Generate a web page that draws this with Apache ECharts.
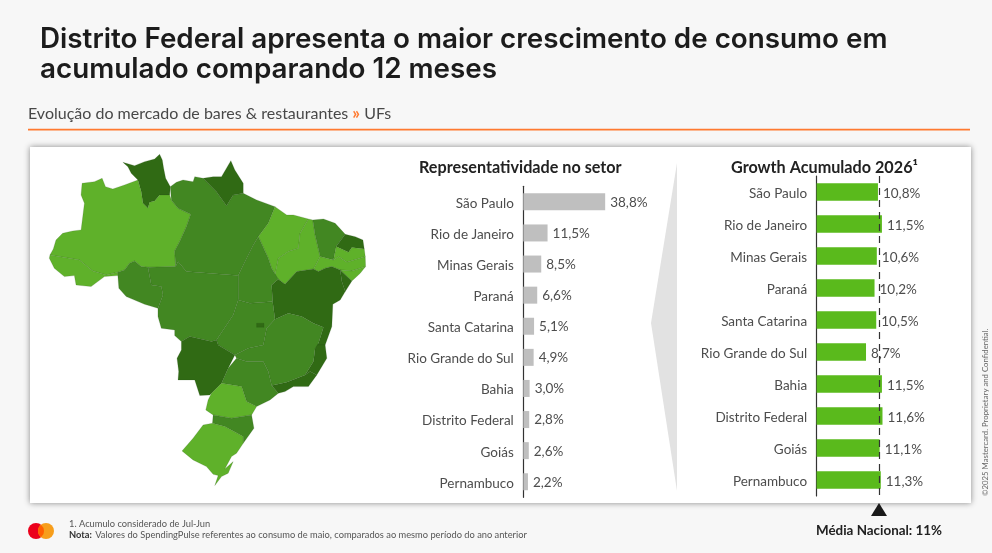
<!DOCTYPE html>
<html>
<head>
<meta charset="utf-8">
<style>html,body{margin:0;padding:0;background:#f7f7f7}#c{width:992px;height:553px}</style>
<script src="https://cdn.jsdelivr.net/npm/echarts@6/dist/echarts.min.js"></script>
</head>
<body>
<div id="c"></div>
<script>
const categories = ['São Paulo','Rio de Janeiro','Minas Gerais','Paraná','Santa Catarina','Rio Grande do Sul','Bahia','Distrito Federal','Goiás','Pernambuco'];
const shareValues = [38.8,11.5,8.5,6.6,5.1,4.9,3.0,2.8,2.6,2.2];
const growthValues = [10.8,11.5,10.6,10.2,10.5,8.7,11.5,11.6,11.1,11.3];
const nationalAverage = 11;
const stateNames = ['Roraima','Amazonas','Acre','Pará','Amapá','Maranhão','Piauí','Ceará','Rio Grande do Norte','Paraíba','Pernambuco','Alagoas','Sergipe','Bahia','Espírito Santo','Rio de Janeiro','Minas Gerais','Goiás','Distrito Federal','Tocantins','Mato Grosso','Rondônia','Mato Grosso do Sul','São Paulo','Paraná','Santa Catarina','Rio Grande do Sul'];
const stateTiers = [3,1,1,2,3,1,1,2,3,1,1,1,3,3,3,3,2,2,3,2,2,2,3,2,1,2,1];
const tierColors = {1:'#5fb12a',2:'#428722',3:'#306a14'};
// Traced outlines of the states, in the map's own coordinate space
const stateShapes = {
'Roraima':[[280,52],[315,62],[345,50],[375,42],[390,28],[398,45],[402,70],[408,100],[422,125],[420,150],[405,150],[390,150],[375,168],[360,172],[355,190],[340,175],[335,140],[325,105],[305,85],[295,65]],
'Amazonas':[[158,115],[195,110],[218,100],[228,125],[250,132],[285,120],[325,105],[335,140],[340,175],[355,190],[360,172],[375,168],[390,150],[420,150],[425,165],[445,190],[483,208],[470,245],[450,290],[435,318],[438,365],[355,367],[335,365],[315,348],[300,355],[285,375],[265,382],[230,390],[190,378],[150,345],[62,330],[72,312],[80,285],[100,265],[130,258],[155,255],[160,215],[165,175],[155,150]],
'Acre':[[62,330],[150,345],[190,378],[230,390],[265,382],[265,392],[225,395],[205,410],[185,425],[140,420],[135,392],[105,395],[75,370],[60,340]],
'Pará':[[422,125],[440,112],[460,105],[490,110],[495,95],[520,100],[560,140],[590,182],[610,150],[640,145],[680,165],[735,185],[715,235],[685,275],[670,300],[650,340],[625,392],[470,380],[445,350],[438,365],[435,318],[450,290],[470,245],[483,208],[445,190],[425,165]],
'Amapá':[[520,100],[550,95],[575,95],[603,47],[615,75],[640,115],[640,130],[640,145],[610,150],[590,182],[560,140]],
'Maranhão':[[735,185],[770,210],[790,210],[835,222],[810,265],[805,310],[775,320],[745,340],[735,390],[745,403],[725,370],[715,340],[690,285],[685,275],[715,235]],
'Piauí':[[835,222],[848,225],[855,270],[870,335],[860,355],[850,372],[800,380],[765,418],[745,403],[735,390],[745,340],[775,320],[805,310],[810,265]],
'Ceará':[[848,225],[880,222],[915,235],[945,268],[918,305],[910,345],[870,335],[855,270]],
'Rio Grande do Norte':[[945,268],[975,275],[998,285],[1002,312],[965,308],[955,322],[918,305]],
'Paraíba':[[918,305],[955,322],[965,308],[1002,312],[1005,335],[950,352],[925,335],[910,345]],
'Pernambuco':[[910,345],[925,335],[950,352],[1005,335],[1006,365],[965,378],[930,375],[905,365],[885,370],[865,380],[850,372],[860,355],[870,335]],
'Alagoas':[[930,375],[965,378],[1006,365],[990,385],[965,408]],
'Sergipe':[[930,375],[965,408],[945,440],[935,410]],
'Bahia':[[725,420],[745,403],[765,418],[800,380],[850,372],[865,380],[885,370],[905,365],[930,375],[935,410],[945,440],[930,465],[908,478],[905,545],[885,600],[855,600],[865,595],[880,547],[850,535],[815,515],[775,505],[735,523],[728,470]],
'Espírito Santo':[[855,600],[885,600],[890,640],[860,690],[840,680],[825,690],[850,650],[855,610]],
'Rio de Janeiro':[[770,712],[825,690],[840,680],[860,690],[835,725],[790,725],[765,740],[745,745],[725,722]],
'Minas Gerais':[[735,523],[775,505],[815,515],[850,535],[880,547],[865,595],[855,610],[850,650],[825,690],[770,712],[725,722],[715,680],[700,650],[650,650],[620,640],[615,630],[655,610],[700,600],[710,550]],
'Goiás':[[625,465],[660,475],[728,470],[735,523],[710,550],[700,600],[655,610],[615,630],[565,600],[560,585],[590,540],[610,510]],
'Distrito Federal':[[680,535],[702,535],[702,547],[680,547]],
'Tocantins':[[670,300],[685,275],[690,285],[715,340],[725,370],[745,403],[725,420],[728,470],[660,475],[625,465],[625,392],[650,340]],
'Mato Grosso':[[355,367],[438,365],[445,350],[470,380],[625,392],[625,465],[610,510],[590,540],[560,585],[545,590],[480,575],[455,590],[435,572],[435,555],[395,550],[385,515],[385,490],[400,450],[395,425],[365,420]],
'Rondônia':[[265,382],[285,375],[300,355],[315,348],[335,365],[355,367],[365,420],[395,425],[400,450],[385,490],[345,478],[290,455],[268,430],[265,392]],
'Mato Grosso do Sul':[[455,590],[480,575],[545,590],[560,585],[565,600],[615,630],[595,670],[575,715],[540,750],[510,752],[495,705],[445,705],[447,680],[442,640],[455,615]],
'São Paulo':[[595,670],[620,640],[650,650],[700,650],[715,680],[725,722],[745,745],[720,765],[680,785],[650,770],[635,725],[575,715]],
'Paraná':[[545,745],[575,715],[635,725],[650,770],[680,785],[665,810],[605,820],[550,810],[528,795],[535,765]],
'Santa Catarina':[[550,810],[605,820],[665,810],[672,850],[640,895],[640,875],[585,845],[548,835]],
'Rio Grande do Sul':[[520,840],[548,835],[585,845],[640,875],[640,895],[620,925],[605,935],[585,972],[610,950],[595,985],[575,995],[555,1022],[565,992],[550,988],[530,965],[490,945],[457,918],[490,880]]
};
const titleLines = 'Distrito Federal apresenta o maior crescimento de consumo em\nacumulado comparando 12 meses';

const geoJson = {type:'FeatureCollection',features:stateNames.map(n=>({type:'Feature',properties:{name:n},geometry:{type:'Polygon',coordinates:[stateShapes[n].concat([stateShapes[n][0]])]}}))};
echarts.registerMap('brasil', geoJson);

const FONT = 'Lato, "Noto Sans", sans-serif';
const LAB = '#4d4d4d';
const chart = echarts.init(document.getElementById('c'), null, {renderer:'canvas'});
const pct = v => v.toFixed(1).replace('.',',') + '%';

chart.setOption({
  animation:false,
  backgroundColor:'#f7f7f7',
  graphic:[
    {type:'rect',z:-10,shape:{x:30,y:147,width:941,height:356},style:{fill:'#fff',shadowBlur:6,shadowColor:'rgba(0,0,0,.45)'}},
    {type:'polygon',z:-9,shape:{points:[[677,163],[651,323],[677,491]]},style:{fill:'#e2e2e2'}},
    {type:'rect',z:1,shape:{x:28,y:128.7,width:942,height:1.7},style:{fill:'#ff7a30'}},
    {type:'text',z:5,left:28,top:105.5,style:{rich:{a:{fontFamily:FONT,fontSize:16,fill:'#484848'},b:{fontFamily:FONT,fontSize:17,fontWeight:'bold',fill:'#ff7a30'}},text:'{a|Evolução do mercado de bares & restaurantes }{b|»}{a| UFs}'}},
    {type:'circle',z:3,shape:{cx:36,cy:531,r:8},style:{fill:'#eb001b'}},
    {type:'circle',z:3,shape:{cx:46,cy:531,r:8},style:{fill:'#f79e1b'}},
    {type:'polygon',z:4,shape:{points:[[41,524.8],[43.5,528],[44,531],[43.5,534],[41,537.2],[38.5,534],[38,531],[38.5,528]]},style:{fill:'#ff5f00'}},
    {type:'text',z:5,left:69,top:519,style:{text:'1. Acumulo considerado de Jul-Jun',fontFamily:FONT,fontSize:9.3,fill:'#555'}},
    {type:'text',z:5,left:69,top:528.5,style:{rich:{b:{fontFamily:FONT,fontSize:9.3,fontWeight:'bold',fill:'#333'},a:{fontFamily:FONT,fontSize:9.3,fill:'#555'}},text:'{b|Nota:} {a|Valores do SpendingPulse referentes ao consumo de maio, comparados ao mesmo período do ano anterior}'}},
    {type:'polygon',z:5,shape:{points:[[879,503],[887,516],[871,516]]},style:{fill:'#1a1a1a'}},
    {type:'text',z:5,left:816,top:524,style:{text:'Média Nacional: 11%',fontFamily:FONT,fontSize:13.4,fontWeight:'bold',fill:'#222'}},
    {type:'text',z:5,x:985,y:496,rotation:Math.PI/2,originX:0,originY:0,style:{text:'©2025 Mastercard. Proprietary and Confidential.',fontFamily:FONT,fontSize:7.8,fill:'#666',align:'left',verticalAlign:'middle'}}
  ],
  title:[
    {text:titleLines,left:40,top:25,padding:0,textStyle:{fontFamily:'Inter, '+FONT,fontSize:27.8,lineHeight:30,fontWeight:600,color:'#1c1c1c'}},
    {text:'Representatividade no setor',left:419,top:160,padding:0,textStyle:{fontFamily:FONT,fontSize:16.2,fontWeight:'bold',color:'#222'}},
    {text:'Growth Acumulado 2026¹',left:731,top:160,padding:0,textStyle:{fontFamily:FONT,fontSize:16.2,fontWeight:'bold',color:'#222'}}
  ],
  grid:[
    {left:523.3,top:186.3,width:105.5,height:311,containLabel:false},
    {left:816.6,top:176,width:113.6,height:320,containLabel:false}
  ],
  xAxis:[
    {type:'value',gridIndex:0,min:0,max:50,show:false},
    {type:'value',gridIndex:1,min:0,max:20,show:false}
  ],
  yAxis:[0,1].map(i=>({type:'category',gridIndex:i,inverse:true,data:categories,
    axisTick:{show:false},axisLine:{lineStyle:{color:'#333',width:1.2}},
    axisLabel:{margin:9.5,formatter:v=>'{s| }\n{a|'+v+'}',
      rich:{s:{fontSize:3,lineHeight:3,height:3},a:{fontFamily:FONT,fontSize:13.5,lineHeight:16,color:LAB}}},
    splitLine:{show:false}})),
  series:[
    {type:'map',map:'brasil',projection:{project:p=>p,unproject:p=>p},left:49.3,top:154.3,width:316.3,height:331.3,silent:true,roam:false,
      label:{show:false},
      itemStyle:{borderColor:'rgba(35,75,25,.28)',borderWidth:0.6},
      data:stateNames.map((n,i)=>({name:n,value:stateTiers[i],itemStyle:{areaColor:tierColors[stateTiers[i]]}}))},
    {type:'bar',xAxisIndex:0,yAxisIndex:0,data:shareValues,barWidth:17,itemStyle:{color:'#bfbfbf'},silent:true,z:1,
      label:{show:true,position:'right',distance:5,offset:[0,0.5],formatter:p=>pct(p.value),fontFamily:FONT,fontSize:13.5,color:LAB}},
    {type:'bar',xAxisIndex:1,yAxisIndex:1,data:growthValues,barWidth:17.5,itemStyle:{color:'#5aba1c'},silent:true,z:1,
      label:{show:true,position:'right',distance:5,offset:[0,1.5],formatter:p=>pct(p.value),fontFamily:FONT,fontSize:13.5,color:LAB},
      markLine:{silent:true,symbol:'none',label:{show:false},z:6,lineStyle:{color:'#333',type:[7,5],width:1.2},data:[{xAxis:nationalAverage}]}}
  ]
});
</script>
</body>
</html>
